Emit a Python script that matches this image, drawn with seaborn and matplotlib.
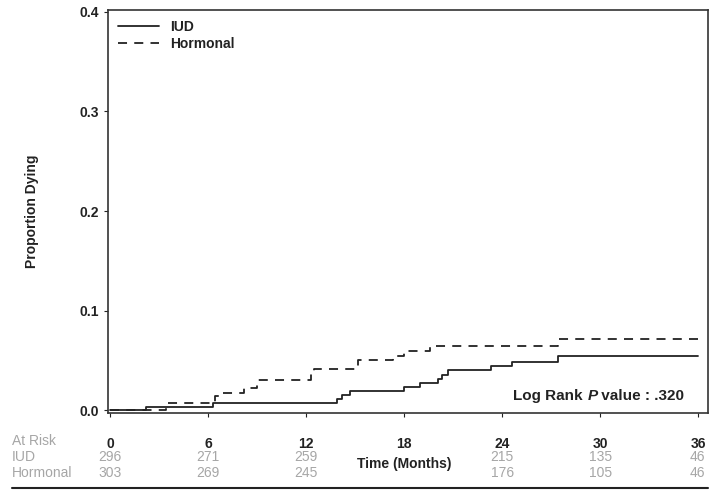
import seaborn as sns
import matplotlib.pyplot as plt
import pandas as pd
from matplotlib.offsetbox import TextArea, HPacker, AnchoredOffsetbox

# Kaplan-Meier steps (months, proportion dying)
iud_time = [0, 2.2, 6.3, 13.9, 14.2, 14.7, 18.0, 19.0, 20.1, 20.3, 20.7, 23.3, 24.6, 27.4, 36]
iud_prop = [0.0, 0.0034, 0.0067, 0.0107, 0.0151, 0.019, 0.0228, 0.027, 0.031, 0.035, 0.040,
            0.044, 0.0487, 0.0547, 0.0547]
horm_time = [0, 3.4, 6.4, 6.9, 8.2, 9.0, 12.3, 12.5, 15.2, 17.3, 18.0, 19.6, 27.4, 36]
horm_prop = [0.0, 0.0074, 0.014, 0.0175, 0.0225, 0.030, 0.037, 0.041, 0.050, 0.054, 0.059,
             0.064, 0.071, 0.071]

x_ticks = [0, 6, 12, 18, 24, 30, 36]
y_ticks = [0.0, 0.1, 0.2, 0.3, 0.4]
risk_times = [0, 6, 12, 24, 30, 36]
iud_risk = [296, 271, 259, 215, 135, 46]
horm_risk = [303, 269, 245, 176, 105, 46]

df = pd.concat([
    pd.DataFrame({'time': iud_time, 'prop': iud_prop, 'group': 'IUD'}),
    pd.DataFrame({'time': horm_time, 'prop': horm_prop, 'group': 'Hormonal'}),
])

sns.set_style('ticks')
plt.rcParams['font.family'] = ['Liberation Sans', 'DejaVu Sans']

fig = plt.figure(figsize=(7.16, 4.96), dpi=100)
ax = fig.add_axes([108 / 716, 1 - 413 / 496, 600 / 716, 403 / 496])

sns.lineplot(data=df, x='time', y='prop', style='group', color='#222222',
             dashes={'IUD': '', 'Hormonal': (5, 4)}, drawstyle='steps-post',
             estimator=None, linewidth=1.3, ax=ax)

ax.set_xlim(-0.12, 36.6)
ax.set_ylim(-0.003, 0.402)
ax.set_xticks(x_ticks)
ax.set_yticks(y_ticks)
ax.set_xticklabels([str(t) for t in x_ticks], fontweight='bold', fontsize=10)
ax.set_yticklabels([f'{v:.1f}' for v in y_ticks], fontweight='bold', fontsize=10)
ax.tick_params(axis='x', length=3, pad=14, colors='#222222')
ax.tick_params(axis='y', length=3, colors='#222222')
for s in ax.spines.values():
    s.set_linewidth(1.2)
    s.set_color('#333333')
ax.set_xlabel('')
ax.set_ylabel('Proportion Dying', fontweight='bold', fontsize=10, labelpad=29,
              color='#222222')

leg = ax.legend(title=None, frameon=False, loc='upper left', fontsize=10,
                handlelength=3.0, borderaxespad=0.3, labelspacing=0.2,
                bbox_to_anchor=(0.0, 1.0))
for t in leg.get_texts():
    t.set_fontweight('bold')
    t.set_color('#222222')

# p-value box
parts = [TextArea('Log Rank ', textprops=dict(fontweight='bold', fontsize=11, color='#222222')),
         TextArea('P', textprops=dict(fontweight='bold', style='italic', fontsize=11, color='#222222')),
         TextArea(' value : .320', textprops=dict(fontweight='bold', fontsize=11, color='#222222'))]
box = AnchoredOffsetbox(loc='lower right', child=HPacker(children=parts, pad=0, sep=0),
                        frameon=False, bbox_to_anchor=(0.97, 0.01),
                        bbox_transform=ax.transAxes, borderpad=0)
ax.add_artist(box)

# at-risk table
gray = '#a6a6a6'
fig.text(12 / 716, 1 - 441 / 496, 'At Risk', color=gray, fontsize=10, va='center')
fig.text(12 / 716, 1 - 457 / 496, 'IUD', color=gray, fontsize=10, va='center')
fig.text(12 / 716, 1 - 473 / 496, 'Hormonal', color=gray, fontsize=10, va='center')
for i, t in enumerate(risk_times):
    ha = 'right' if t == 36 else 'center'
    xx = t + 0.45 if t == 36 else t
    ax.annotate(str(iud_risk[i]), xy=(xx, 0), xycoords=('data', 'axes fraction'),
                xytext=(0, -44), textcoords='offset pixels', ha=ha, va='center',
                color=gray, fontsize=10)
    ax.annotate(str(horm_risk[i]), xy=(xx, 0), xycoords=('data', 'axes fraction'),
                xytext=(0, -60), textcoords='offset pixels', ha=ha, va='center',
                color=gray, fontsize=10)
ax.annotate('Time (Months)', xy=(18, 0), xycoords=('data', 'axes fraction'),
            xytext=(0, -51), textcoords='offset pixels', ha='center', va='center',
            fontweight='bold', fontsize=10, color='#222222')

fig.add_artist(plt.Line2D([12 / 716, 708 / 716], [1 - 488 / 496, 1 - 488 / 496],
                          color='#222222', linewidth=1.5))

fig.savefig('out.png', dpi=100)
